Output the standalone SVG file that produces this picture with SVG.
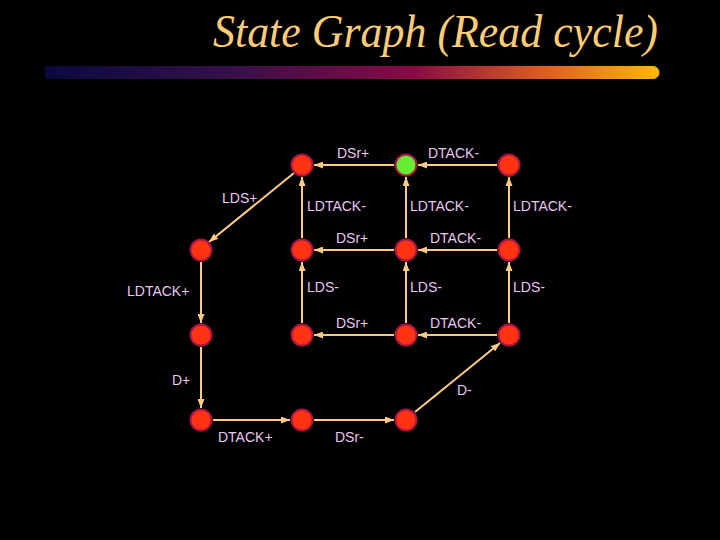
<svg xmlns="http://www.w3.org/2000/svg" width="720" height="540" viewBox="0 0 720 540">
<defs>
<linearGradient id="bar" x1="0" y1="0" x2="1" y2="0">
<stop offset="0" stop-color="#0a0a3a"/>
<stop offset="0.3" stop-color="#35104a"/>
<stop offset="0.6" stop-color="#8a0a45"/>
<stop offset="0.82" stop-color="#e06020"/>
<stop offset="1" stop-color="#ffb800"/>
</linearGradient>
<marker id="ah" markerWidth="9" markerHeight="7" refX="9" refY="3.5" orient="auto" markerUnits="userSpaceOnUse">
<path d="M0,0 L9,3.5 L0,7 Z" fill="#ffcc88"/>
</marker>
<style>
.t{font-family:"Liberation Sans",Arial,sans-serif;font-size:14px;fill:#e8c8f0}
.e{stroke:#ffcc88;stroke-width:2;fill:none;marker-end:url(#ah)}
.n{fill:#ff3311;stroke:#a81448;stroke-width:2}
.g{fill:#66ee33;stroke:#a81448;stroke-width:2}
</style>
</defs>
<rect width="720" height="540" fill="#000"/>
<text x="213" y="47" font-family="'Liberation Serif','Times New Roman',serif" font-style="italic" font-size="46" fill="#ffcc77" textLength="445" lengthAdjust="spacingAndGlyphs">State Graph (Read cycle)</text>
<path d="M45,66 H653 A6.5,6.5 0 0 1 653,79 H45 Z" fill="url(#bar)"/>
<g id="connectors">
<line class="e" x1="394" y1="165" x2="314" y2="165"/>
<line class="e" x1="497" y1="165" x2="418" y2="165"/>
<line class="e" x1="302" y1="238" x2="302" y2="177"/>
<line class="e" x1="406" y1="238" x2="406" y2="177"/>
<line class="e" x1="509" y1="238" x2="509" y2="177"/>
<line class="e" x1="294" y1="173" x2="209" y2="242"/>
<line class="e" x1="394" y1="250" x2="314" y2="250"/>
<line class="e" x1="497" y1="250" x2="418" y2="250"/>
<line class="e" x1="302" y1="323" x2="302" y2="262"/>
<line class="e" x1="406" y1="323" x2="406" y2="262"/>
<line class="e" x1="509" y1="323" x2="509" y2="262"/>
<line class="e" x1="394" y1="335" x2="314" y2="335"/>
<line class="e" x1="497" y1="335" x2="418" y2="335"/>
<line class="e" x1="201" y1="262" x2="201" y2="323"/>
<line class="e" x1="201" y1="347" x2="201" y2="408"/>
<line class="e" x1="213" y1="420" x2="290" y2="420"/>
<line class="e" x1="314" y1="420" x2="394" y2="420"/>
<line class="e" x1="415" y1="412" x2="500" y2="343"/>
</g>
<g id="labels">
<text class="t" x="337" y="158">DSr+</text>
<text class="t" x="428" y="158">DTACK-</text>
<text class="t" x="222" y="203">LDS+</text>
<text class="t" x="307" y="211">LDTACK-</text>
<text class="t" x="410" y="211">LDTACK-</text>
<text class="t" x="513" y="211">LDTACK-</text>
<text class="t" x="336" y="243">DSr+</text>
<text class="t" x="430" y="243">DTACK-</text>
<text class="t" x="127" y="296">LDTACK+</text>
<text class="t" x="307" y="292">LDS-</text>
<text class="t" x="410" y="292">LDS-</text>
<text class="t" x="513" y="292">LDS-</text>
<text class="t" x="336" y="328">DSr+</text>
<text class="t" x="430" y="328">DTACK-</text>
<text class="t" x="172" y="385">D+</text>
<text class="t" x="457" y="395">D-</text>
<text class="t" x="218" y="442">DTACK+</text>
<text class="t" x="335" y="442">DSr-</text>
</g>
<g id="s1"><circle class="n" cx="302" cy="165" r="10.5"/></g>
<g id="s2"><circle class="g" cx="406" cy="165" r="10.5"/></g>
<g id="s3"><circle class="n" cx="509" cy="165" r="10.5"/></g>
<g id="s4"><circle class="n" cx="201" cy="250" r="10.5"/></g>
<g id="s5"><circle class="n" cx="302" cy="250" r="10.5"/></g>
<g id="s6"><circle class="n" cx="406" cy="250" r="10.5"/></g>
<g id="s7"><circle class="n" cx="509" cy="250" r="10.5"/></g>
<g id="s8"><circle class="n" cx="201" cy="335" r="10.5"/></g>
<g id="s9"><circle class="n" cx="302" cy="335" r="10.5"/></g>
<g id="s10"><circle class="n" cx="406" cy="335" r="10.5"/></g>
<g id="s11"><circle class="n" cx="509" cy="335" r="10.5"/></g>
<g id="s12"><circle class="n" cx="201" cy="420" r="10.5"/></g>
<g id="s13"><circle class="n" cx="302" cy="420" r="10.5"/></g>
<g id="s14"><circle class="n" cx="406" cy="420" r="10.5"/></g>
</svg>
